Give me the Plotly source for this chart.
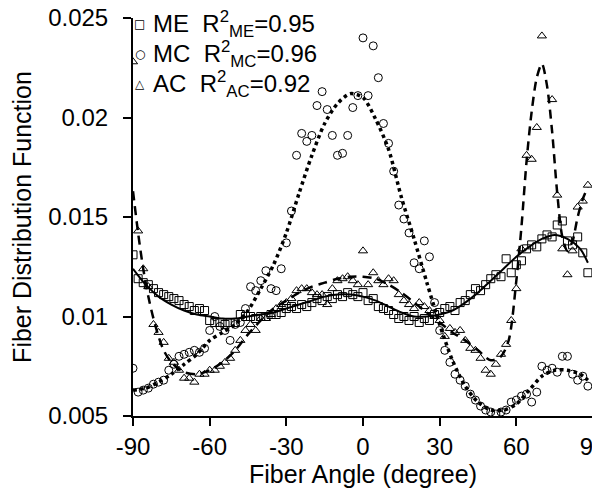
"""Fiber distribution function vs fiber angle (ME / MC / AC)."""

import plotly.graph_objects as go

# measured data, one value every 2 degrees from -90 to 88
angle = list(range(-90, 90, 2))

me = [0.0131, 0.0119, 0.0117, 0.0116, 0.0114, 0.0112, 0.0111, 0.0110, 0.0109, 0.0108,
      0.0106, 0.0105, 0.0103, 0.0104, 0.0103, 0.0098, 0.0097, 0.0097, 0.0096, 0.0097,
      0.0097, 0.0101, 0.0100, 0.0100, 0.0099, 0.0100, 0.0100, 0.0101, 0.0101, 0.0102,
      0.0104, 0.0105, 0.0104, 0.0106, 0.0105, 0.0107, 0.0109, 0.0108, 0.0110, 0.0109,
      0.0111, 0.0110, 0.0112, 0.0111, 0.0110, 0.0112, 0.0108, 0.0109, 0.0105, 0.0104,
      0.0103, 0.0101, 0.0099, 0.0100, 0.0098, 0.0100, 0.0097, 0.0099, 0.0098, 0.0101,
      0.0102, 0.0104, 0.0105, 0.0103, 0.0107, 0.0108, 0.0111, 0.0114, 0.0113, 0.0116,
      0.0119, 0.0121, 0.0120, 0.0129, 0.0122, 0.0126, 0.0128, 0.0134, 0.0136, 0.0135,
      0.0139, 0.0141, 0.0140, 0.0146, 0.0148, 0.0138, 0.0136, 0.0140, 0.0132, 0.0122]

mc = [0.0074, 0.0062, 0.0063, 0.0064, 0.0066, 0.0067, 0.0068, 0.0073, 0.0076, 0.0080,
      0.0081, 0.0082, 0.0083, 0.0082, 0.0084, 0.0093, 0.0100, 0.0095, 0.0093, 0.0088,
      0.0096, 0.0097, 0.0104, 0.0115, 0.0113, 0.0118, 0.0123, 0.0114, 0.0113, 0.0124,
      0.0137, 0.0153, 0.0181, 0.0192, 0.0188, 0.0191, 0.0206, 0.0213, 0.0204, 0.0191,
      0.0181, 0.0182, 0.0191, 0.0205, 0.0211, 0.0240, 0.0211, 0.0236, 0.0220, 0.0197,
      0.0187, 0.0173, 0.0156, 0.0149, 0.0142, 0.0127, 0.0124, 0.0138, 0.0130, 0.0107,
      0.0093, 0.0083, 0.0077, 0.0071, 0.0068, 0.0065, 0.0061, 0.0058, 0.0055, 0.0053,
      0.0052, 0.0051, 0.0052, 0.0053, 0.0057, 0.0058, 0.0060, 0.0061, 0.0057, 0.0062,
      0.0075, 0.0073, 0.0074, 0.0072, 0.0080, 0.0080, 0.0071, 0.0068, 0.0070, 0.0065]

ac = [0.0228, 0.0143, 0.0124, 0.0115, 0.0096, 0.0092, 0.0087, 0.0079, 0.0077, 0.0073,
      0.0069, 0.0069, 0.0067, 0.0071, 0.0071, 0.0073, 0.0073, 0.0075, 0.0077, 0.0079,
      0.0083, 0.0088, 0.0093, 0.0096, 0.0093, 0.0099, 0.0099, 0.0101, 0.0104, 0.0106,
      0.0107, 0.0109, 0.0113, 0.0114, 0.0114, 0.0112, 0.0111, 0.0111, 0.0106, 0.0114,
      0.0118, 0.0119, 0.0120, 0.0118, 0.0116, 0.0133, 0.0116, 0.0122, 0.0118, 0.0116,
      0.0119, 0.0118, 0.0111, 0.0108, 0.0106, 0.0104, 0.0107, 0.0105, 0.0103, 0.0100,
      0.0098, 0.0090, 0.0094, 0.0092, 0.0093, 0.0088, 0.0084, 0.0083, 0.0079, 0.0073,
      0.0071, 0.0076, 0.0081, 0.0086, 0.0098, 0.0114, 0.0134, 0.0181, 0.0179, 0.0195,
      0.0241, None, 0.0209, 0.0161, 0.0134, 0.0121, 0.0133, 0.0155, 0.0158, 0.0166]

# fitted curves
me_fit_angle = [-90, -85, -80, -75, -70, -65, -60, -55, -50, -45, -40, -35, -30, -25, -20,
                -15, -10, -5, 0, 5, 10, 15, 20, 25, 30, 35, 40, 45, 50, 55, 60, 65, 70,
                75, 80, 85, 88]
me_fit = [0.0124, 0.0116, 0.0110, 0.0106, 0.0103, 0.0101, 0.0100, 0.0099, 0.0099, 0.0100,
          0.0101, 0.0102, 0.0104, 0.0106, 0.0108, 0.0110, 0.0111, 0.0111, 0.0110, 0.0108,
          0.0105, 0.0102, 0.0100, 0.0100, 0.0101, 0.0103, 0.0107, 0.0112, 0.0118, 0.0124,
          0.0130, 0.0135, 0.0139, 0.0141, 0.0139, 0.0134, 0.0127]

mc_fit_angle = me_fit_angle
mc_fit = [0.0063, 0.0064, 0.0067, 0.0071, 0.0076, 0.0081, 0.0088, 0.0092, 0.0096, 0.0103,
          0.0114, 0.0126, 0.0142, 0.0162, 0.0181, 0.0197, 0.0207, 0.0212, 0.0210, 0.0199,
          0.0184, 0.0160, 0.0139, 0.0117, 0.0096, 0.0078, 0.0065, 0.0057, 0.0053, 0.0053,
          0.0056, 0.0063, 0.0070, 0.0073, 0.0073, 0.0071, 0.0068]

ac_fit_angle = [-90, -88, -86, -84, -82, -80, -78, -75, -70, -65, -60, -55, -50, -45, -40,
                -35, -30, -25, -20, -15, -10, -5, 0, 5, 10, 15, 20, 25, 30, 35, 40, 45, 50,
                54, 57, 60, 62, 64, 66, 68, 70, 72, 74, 76, 78, 80, 82, 84, 86, 88]
ac_fit = [0.0163, 0.0142, 0.0124, 0.0110, 0.0099, 0.0090, 0.0083, 0.0077, 0.0072, 0.0071,
          0.0073, 0.0077, 0.0083, 0.0091, 0.0098, 0.0104, 0.0108, 0.0112, 0.0115, 0.0117,
          0.0119, 0.0120, 0.0120, 0.0119, 0.0116, 0.0112, 0.0107, 0.0102, 0.0097, 0.0092,
          0.0088, 0.0083, 0.0078, 0.0080, 0.0088, 0.0118, 0.0145, 0.0178, 0.0203, 0.0220,
          0.0227, 0.0216, 0.0193, 0.0162, 0.0140, 0.0133, 0.0138, 0.0150, 0.0159, 0.0165]

x_ticks = [-90, -60, -30, 0, 30, 60, 90]
x_tick_labels = ["-90", "-60", "-30", "0", "30", "60", "90"]
y_ticks = [0.005, 0.01, 0.015, 0.02, 0.025]
y_tick_labels = ["0.005", "0.01", "0.015", "0.02", "0.025"]

names = ["ME", "MC", "AC"]
r_squared = ["0.95", "0.96", "0.92"]
legend_glyphs = ["\u25a1", "\u25cb", "\u25b3"]

NB = "\u00a0"
series = [
    (me, "square-open"),
    (mc, "circle-open"),
    (ac, "triangle-up-open"),
]

fig = go.Figure()
for name, (vals, symbol) in zip(names, series):
    fig.add_trace(go.Scatter(
        x=angle, y=vals, mode="markers", name=name, showlegend=False,
        marker=dict(symbol=symbol, size=8, color="black", line=dict(color="black", width=1)),
    ))

fits = [
    (me_fit_angle, me_fit, dict(color="black", width=2)),
    (mc_fit_angle, mc_fit, dict(color="black", width=3.5, dash="dot")),
    (ac_fit_angle, ac_fit, dict(color="black", width=2.5, dash="9px,6px")),
]
for xs, ys, line in fits:
    fig.add_trace(go.Scatter(x=xs, y=ys, mode="lines", line=dict(shape="spline", smoothing=0.8, **line),
                             showlegend=False, hoverinfo="skip"))

# legend block drawn as text in the top-left corner
row_y = [0.985, 0.9095, 0.834]
for name, r2, glyph, yy in zip(names, r_squared, legend_glyphs, row_y):
    fig.add_annotation(x=0.015, y=yy, xref="paper", yref="paper", text=glyph, showarrow=False,
                       xanchor="center", yanchor="middle",
                       font=dict(family="DejaVu Sans", size=12, color="black"))
    fig.add_annotation(x=0.039, y=yy, xref="paper", yref="paper",
                       text=f"{name}{NB}{NB}R<sup>2</sup><sub>{name}</sub>={r2}",
                       showarrow=False, xanchor="left", yanchor="middle",
                       font=dict(size=24, color="black"))

axis_style = dict(
    showline=True, linecolor="black", linewidth=2, ticks="outside", ticklen=8, tickwidth=2,
    tickcolor="black", showgrid=False, zeroline=False, mirror=False, automargin=False,
    ticklabeloverflow="allow", tickfont=dict(size=24, color="black"),
)
fig.update_xaxes(range=[-90, 90], tickvals=x_ticks, ticktext=x_tick_labels,
                 title=dict(text="Fiber Angle (degree)", font=dict(size=25, color="black"), standoff=6),
                 **axis_style)
fig.update_yaxes(range=[0.005, 0.025], tickvals=y_ticks, ticktext=y_tick_labels,
                 ticklabelstandoff=10,
                 title=dict(text="Fiber Distribution Function", font=dict(size=25, color="black"), standoff=10),
                 **axis_style)

fig.update_layout(
    width=600, height=491,
    margin=dict(l=125, r=15, t=10, b=83, autoexpand=False),
    template="plotly_white",
    plot_bgcolor="white", paper_bgcolor="white",
    font=dict(family="Liberation Sans, Arial, sans-serif", color="black"),
    showlegend=False,
)

fig.write_html("out.html")
